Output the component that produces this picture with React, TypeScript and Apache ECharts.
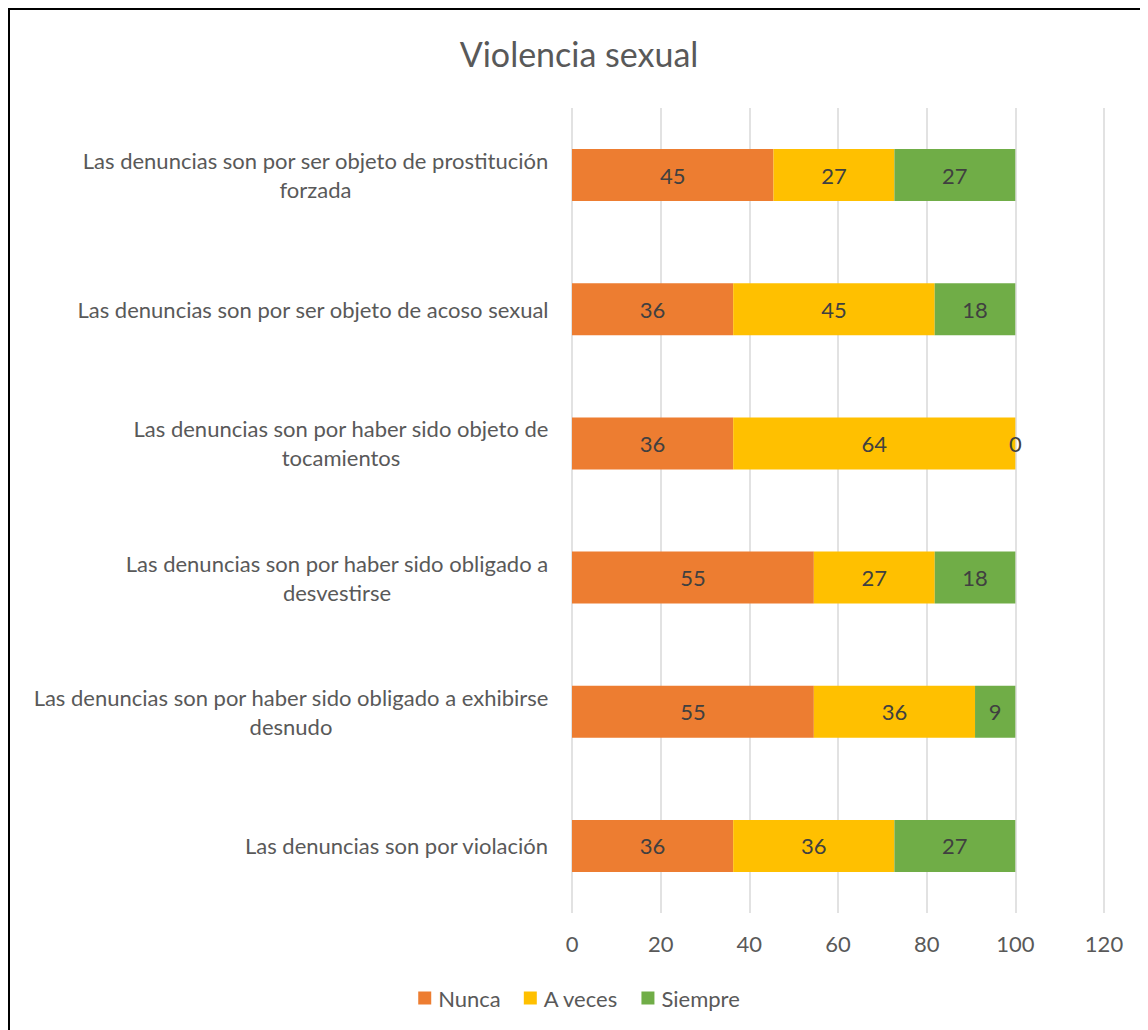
import React, { useEffect, useRef } from "react";
import * as echarts from "echarts";

const categories = [
  "Las denuncias son por ser objeto de prostitución\nforzada",
  "Las denuncias son por ser objeto de acoso sexual",
  "Las denuncias son por haber sido objeto de\ntocamientos",
  "Las denuncias son por haber sido obligado a\ndesvestirse",
  "Las denuncias son por haber sido obligado a exhibirse\ndesnudo",
  "Las denuncias son por violación",
];
const nunca = [45.45, 36.36, 36.36, 54.55, 54.55, 36.36];
const aVeces = [27.27, 45.45, 63.64, 27.27, 36.36, 36.36];
const siempre = [27.27, 18.18, 0, 18.18, 9.09, 27.27];
const seriesNames = ["Nunca", "A veces", "Siempre"];
const colors = ["#ED7D31", "#FFC000", "#70AD47"];
const titleText = "Violencia sexual";

const FONT = "Lato";
const LABEL_SIZE = 22;

export default function App() {
  const ref = useRef<HTMLDivElement>(null);
  useEffect(() => {
    document.documentElement.style.overflow = "hidden";
    if (!ref.current) return;
    const chart = echarts.init(ref.current, undefined, { renderer: "svg" });
    const ctx = document.createElement("canvas").getContext("2d")!;
    ctx.font = `${LABEL_SIZE}px ${FONT}`;
    const rich: any = {};
    categories.forEach((c, i) => {
      const w = Math.max(...c.split("\n").map((l) => ctx.measureText(l).width));
      rich["r" + i] = {
        width: Math.ceil(w),
        align: "center",
        fontFamily: FONT,
        fontSize: LABEL_SIZE,
        color: "#595959",
        lineHeight: 29,
      };
    });
    const allData = [nunca, aVeces, siempre];
    chart.setOption({
      animation: false,
      title: {
        text: titleText,
        left: "center",
        top: 21,
        textStyle: { fontFamily: FONT, fontSize: 34, fontWeight: "normal", color: "#595959" },
      },
      legend: {
        top: 972,
        left: "center",
        itemWidth: 13,
        itemHeight: 13,
        itemGap: 23,
        icon: "rect",
        textStyle: { fontFamily: FONT, fontSize: LABEL_SIZE, color: "#595959", padding: [0, 0, 0, 2] },
        data: seriesNames,
      },
      grid: { left: 562, right: 44, top: 98, bottom: 117 },
      xAxis: {
        type: "value",
        min: 0,
        max: 120,
        interval: 20,
        axisLine: { show: false },
        axisTick: { show: false },
        splitLine: { lineStyle: { color: "#d9d9d9", width: 1.5 } },
        axisLabel: { fontFamily: FONT, fontSize: LABEL_SIZE, color: "#595959", margin: 19 },
      },
      yAxis: {
        type: "category",
        inverse: true,
        data: categories,
        axisLine: { show: false },
        axisTick: { show: false },
        axisLabel: {
          margin: 23,
          formatter: (v: string, i: number) =>
            v.split("\n").map((l) => `{r${i}|${l}}`).join("\n"),
          rich,
        },
      },
      series: seriesNames.map((name, k) => ({
        name,
        type: "bar",
        stack: "total",
        barWidth: 52,
        data: allData[k],
        itemStyle: { color: colors[k] },
        label: {
          show: true,
          position: "inside",
          formatter: (p: any) => String(Math.round(p.value)),
          fontFamily: FONT,
          fontSize: LABEL_SIZE,
          color: "#404040",
        },
      })),
    });
    return () => chart.dispose();
  }, []);
  return (
    <div
      style={{
        width: 1180,
        height: 1060,
        borderTop: "2px solid #000",
        borderLeft: "2px solid #000",
        boxSizing: "border-box",
        overflow: "hidden",
      }}
    >
      <div ref={ref} style={{ width: 1138, height: 1020 }} />
    </div>
  );
}
